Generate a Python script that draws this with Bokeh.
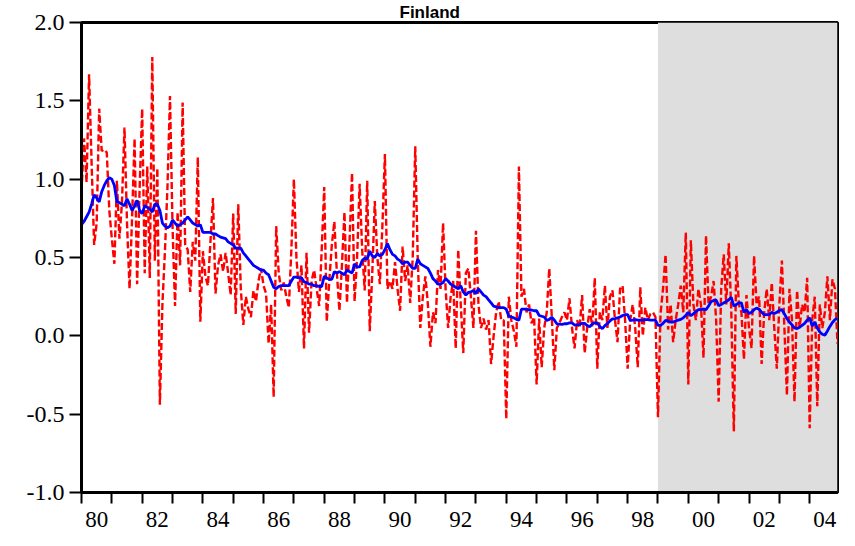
import numpy as np
from bokeh.plotting import figure
from bokeh.models import FixedTicker, BoxAnnotation, Range1d, PrintfTickFormatter
from bokeh.embed import file_html
from bokeh.resources import INLINE

# ---------------- data (monthly, 1980:01 - 2004:12) ----------------
start_year = 1980
n_years = 25

actual = [
    0.92, 1.26, 0.98, 1.67, 1.10, 0.58, 0.72, 1.45, 1.18, 1.19, 1.17, 0.80,   # 1980
    0.62, 0.46, 0.99, 0.62, 0.85, 1.33, 0.72, 0.30, 0.75, 1.26, 0.33, 0.95,   # 1981
    1.45, 0.40, 1.08, 0.37, 1.78, 0.48, 1.07, -0.44, 0.20, 0.54, 0.95, 1.53,  # 1982
    0.70, 0.19, 0.79, 0.45, 1.49, 0.58, 0.55, 0.28, 0.60, 0.48, 1.14, 0.09,   # 1983
    0.54, 0.38, 0.32, 0.60, 0.88, 0.27, 0.45, 0.52, 0.41, 0.53, 0.40, 0.26,   # 1984
    0.78, 0.14, 0.84, 0.30, 0.07, 0.25, 0.17, 0.12, 0.29, 0.22, 0.35, 0.43,   # 1985
    0.32, 0.27, -0.05, 0.20, -0.39, 0.70, 0.40, 0.29, 0.34, 0.25, 0.18, 0.55, # 1986
    1.00, 0.50, 0.28, 0.45, -0.08, 0.53, 0.02, 0.35, 0.42, 0.30, 0.19, 0.55,  # 1987
    0.95, 0.09, 0.35, 0.58, 0.73, 0.40, 0.16, 0.45, 0.79, 0.21, 0.60, 1.04,   # 1988
    0.22, 0.50, 0.97, 0.55, 0.29, 0.99, 0.03, 0.40, 0.86, 0.50, 0.33, 0.70,   # 1989
    1.16, 0.30, 0.35, 0.30, 0.47, 0.30, 0.16, 0.57, 0.35, 0.45, 0.21, 0.50,   # 1990
    1.21, 0.48, 0.05, 0.25, 0.38, 0.20, -0.07, 0.15, 0.08, 0.42, 0.30, 0.72,  # 1991
    0.30, 0.05, 0.25, 0.35, -0.08, 0.55, 0.20, -0.11, 0.40, 0.43, 0.25, 0.05, # 1992
    0.67, 0.20, 0.05, 0.11, 0.04, 0.10, -0.18, 0.00, 0.15, 0.22, 0.10, 0.10,  # 1993
    -0.53, 0.25, 0.10, 0.03, -0.07, 1.08, 0.25, 0.30, 0.15, 0.20, 0.08, 0.12, # 1994
    -0.31, 0.11, -0.20, 0.05, 0.15, 0.43, 0.12, -0.22, 0.05, 0.08, 0.12, 0.15, # 1995
    0.10, 0.24, 0.05, -0.08, 0.10, 0.05, 0.26, -0.11, 0.05, 0.17, 0.06, 0.37, # 1996
    -0.21, 0.15, 0.10, 0.32, 0.05, 0.25, 0.29, 0.10, -0.04, 0.30, 0.32, 0.10, # 1997
    -0.21, 0.10, 0.20, 0.05, -0.20, 0.31, 0.00, 0.18, 0.10, 0.14, 0.15, 0.12, # 1998
    -0.52, 0.14, 0.30, 0.52, 0.04, 0.20, -0.04, 0.10, 0.20, 0.32, 0.15, 0.66, # 1999
    -0.31, 0.61, 0.20, 0.10, 0.30, 0.20, -0.14, 0.64, 0.20, 0.25, 0.35, 0.10, # 2000
    -0.42, 0.30, 0.52, 0.20, 0.59, 0.15, -0.61, 0.51, 0.20, 0.15, -0.15, 0.26, # 2001
    0.05, -0.08, 0.51, 0.20, 0.25, -0.18, 0.15, 0.30, 0.10, 0.34, 0.05, -0.21, # 2002
    0.20, 0.48, 0.05, -0.38, 0.30, 0.10, -0.42, 0.29, 0.05, 0.20, 0.15, 0.37, # 2003
    -0.59, 0.10, 0.25, -0.45, 0.20, 0.05, 0.15, 0.38, 0.10, 0.36, 0.30, -0.05, # 2004
]

smoothed = [
    0.71, 0.73, 0.76, 0.79, 0.84, 0.90, 0.88, 0.855, 0.92, 0.96, 0.99, 1.01,    # 1980
    1.00, 0.96, 0.855, 0.85, 0.84, 0.83, 0.875, 0.84, 0.80, 0.83, 0.865, 0.80,  # 1981
    0.78, 0.83, 0.82, 0.81, 0.79, 0.84, 0.84, 0.80, 0.72, 0.70, 0.69, 0.70,     # 1982
    0.74, 0.72, 0.70, 0.71, 0.72, 0.74, 0.76, 0.74, 0.72, 0.71, 0.70, 0.71,     # 1983
    0.66, 0.66, 0.66, 0.66, 0.65, 0.65, 0.64, 0.63, 0.625, 0.62, 0.60, 0.59,    # 1984
    0.58, 0.56, 0.56, 0.56, 0.53, 0.51, 0.49, 0.47, 0.45, 0.44, 0.43, 0.42,     # 1985
    0.42, 0.40, 0.39, 0.35, 0.31, 0.30, 0.315, 0.32, 0.32, 0.32, 0.32, 0.35,    # 1986
    0.375, 0.375, 0.37, 0.37, 0.345, 0.34, 0.33, 0.33, 0.32, 0.32, 0.315, 0.315, # 1987
    0.38, 0.37, 0.36, 0.36, 0.41, 0.40, 0.41, 0.40, 0.39, 0.42, 0.41, 0.40,     # 1988
    0.46, 0.44, 0.44, 0.48, 0.496, 0.49, 0.54, 0.51, 0.50, 0.525, 0.51, 0.52,   # 1989
    0.55, 0.59, 0.55, 0.52, 0.51, 0.49, 0.48, 0.46, 0.47, 0.47, 0.45, 0.43,     # 1990
    0.43, 0.49, 0.46, 0.45, 0.44, 0.43, 0.40, 0.365, 0.35, 0.33, 0.33, 0.34,    # 1991
    0.365, 0.35, 0.33, 0.32, 0.31, 0.30, 0.32, 0.28, 0.26, 0.277, 0.28, 0.29,   # 1992
    0.27, 0.30, 0.28, 0.26, 0.25, 0.23, 0.21, 0.19, 0.185, 0.18, 0.18, 0.18,    # 1993
    0.17, 0.125, 0.12, 0.115, 0.105, 0.10, 0.17, 0.17, 0.17, 0.165, 0.165, 0.16, # 1994
    0.16, 0.13, 0.125, 0.12, 0.098, 0.105, 0.119, 0.10, 0.077, 0.075, 0.073, 0.077, # 1995
    0.077, 0.083, 0.083, 0.069, 0.07, 0.073, 0.08, 0.079, 0.066, 0.058, 0.075, 0.083, # 1996
    0.083, 0.060, 0.046, 0.065, 0.079, 0.095, 0.108, 0.11, 0.115, 0.12, 0.13, 0.135, # 1997
    0.135, 0.098, 0.10, 0.104, 0.10, 0.10, 0.10, 0.104, 0.104, 0.10, 0.10, 0.10,  # 1998
    0.067, 0.067, 0.08, 0.098, 0.095, 0.088, 0.088, 0.095, 0.10, 0.105, 0.115, 0.13, # 1999
    0.15, 0.129, 0.14, 0.155, 0.167, 0.168, 0.171, 0.167, 0.19, 0.219, 0.225, 0.229, # 2000
    0.192, 0.20, 0.21, 0.219, 0.23, 0.246, 0.19, 0.20, 0.21, 0.21, 0.15, 0.167,  # 2001
    0.142, 0.15, 0.167, 0.177, 0.17, 0.15, 0.135, 0.135, 0.135, 0.15, 0.142, 0.15, # 2002
    0.163, 0.167, 0.14, 0.11, 0.088, 0.07, 0.05, 0.046, 0.055, 0.067, 0.079, 0.10, # 2003
    0.115, 0.062, 0.088, 0.05, 0.025, 0.010, 0.004, 0.031, 0.06, 0.085, 0.104, 0.11, # 2004
]

shade_start = 1999.0
title_text = "Finland"
x_tick_labels = ["80", "82", "84", "86", "88", "90", "92", "94", "96", "98", "00", "02", "04"]
y_ticks = [-1.0, -0.5, 0.0, 0.5, 1.0, 1.5, 2.0]

# time axis (decimal years)
t = start_year + np.arange(len(actual)) / 12.0
x_end = t[-1]

# ---------------- layout ----------------
W, H = 839, 530
BL, BR, BT, BB = 81, 2, 20, 38

p = figure(width=W, height=H, output_backend="svg", toolbar_location=None,
           x_range=Range1d(float(start_year), float(x_end)),
           y_range=Range1d(-1.0, 2.0),
           min_border_left=BL, min_border_right=BR, min_border_top=BT, min_border_bottom=BB,
           background_fill_color="white", border_fill_color="white")
p.grid.visible = False
p.outline_line_color = "black"
p.outline_line_width = 3

# title, kept small so it fits above the frame
p.title.text = title_text
p.title.align = "left"
p.title.offset = 318
p.title.standoff = 1
p.title.text_font = "Liberation Sans"
p.title.text_font_style = "bold"
p.title.text_font_size = "17px"
p.title.text_color = "black"

# shaded forecast period
p.add_layout(BoxAnnotation(left=shade_start, fill_color="#dedede", fill_alpha=1.0,
                           line_alpha=0, level="underlay"))

p.line(t, actual, line_color="#ff0000", line_width=2.4, line_dash="7 3")
p.line(t, smoothed, line_color="#0000ff", line_width=2.8)

# ---------------- x axis ----------------
years = list(range(start_year, start_year + n_years))
label_pos = [start_year + 2 * i + 0.5 for i in range(len(x_tick_labels))]
xa = p.xaxis[0]
xa.ticker = FixedTicker(ticks=label_pos, minor_ticks=years)
xa.major_label_overrides = {pos: lab for pos, lab in zip(label_pos, x_tick_labels)}
xa.major_tick_in = 0
xa.major_tick_out = 0
xa.minor_tick_in = 0
xa.minor_tick_out = 11
xa.minor_tick_line_width = 2
xa.minor_tick_line_color = "black"
xa.axis_line_width = 3
xa.axis_line_color = "black"
xa.major_label_standoff = 8
xa.major_label_text_font = "Liberation Serif"
xa.major_label_text_font_size = "23px"
xa.major_label_text_color = "black"

# ---------------- y axis ----------------
ya = p.yaxis[0]
ya.ticker = FixedTicker(ticks=y_ticks, minor_ticks=[])
ya.formatter = PrintfTickFormatter(format="%.1f")
ya.major_tick_in = 0
ya.major_tick_out = 12
ya.major_tick_line_width = 2
ya.major_tick_line_color = "black"
ya.minor_tick_out = 0
ya.minor_tick_in = 0
ya.axis_line_width = 3
ya.axis_line_color = "black"
ya.major_label_standoff = 5
ya.major_label_text_font = "Liberation Serif"
ya.major_label_text_font_size = "24px"
ya.major_label_text_color = "black"

open("out.html", "w").write(file_html(p, INLINE))
